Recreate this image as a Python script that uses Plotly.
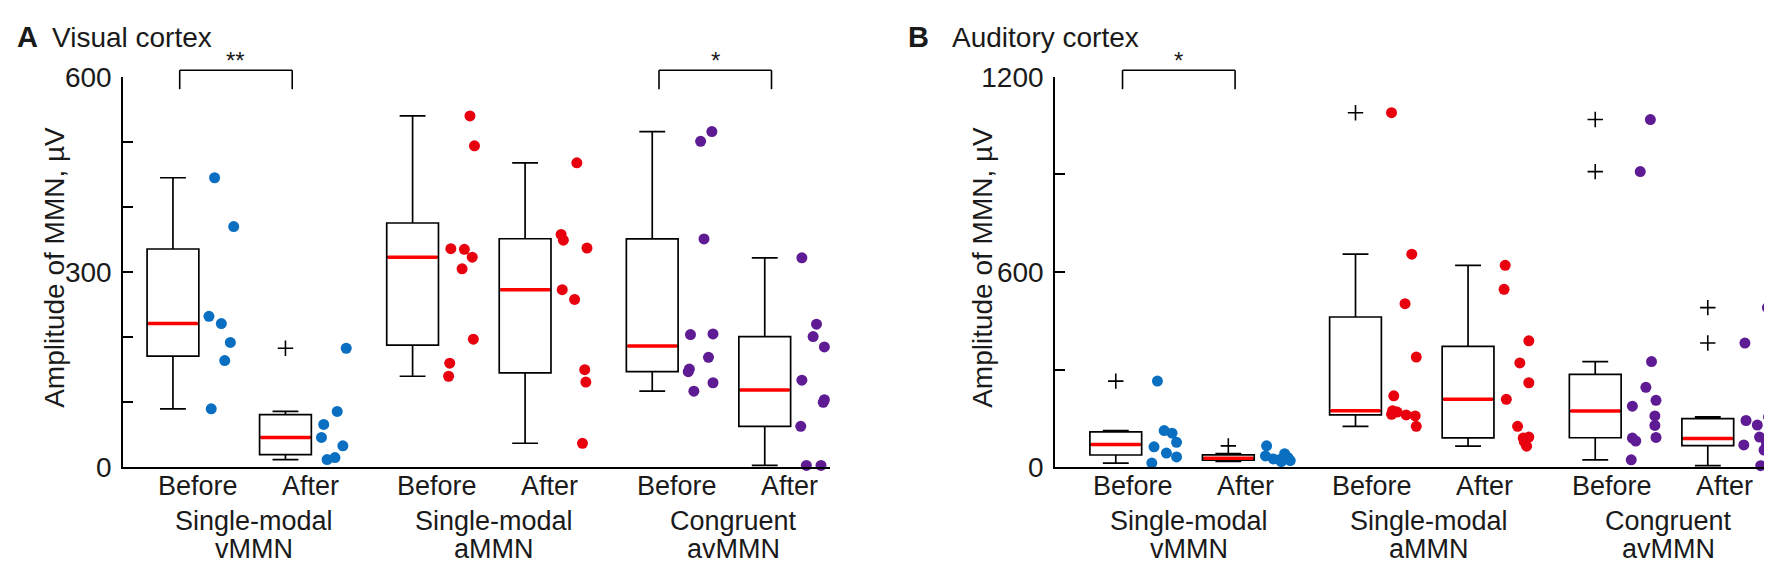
import numpy as np
import plotly.graph_objects as go

# ---------------- data ----------------
box_positions = [1, 2, 3.13, 4.13, 5.26, 6.26]
condition_labels = ["Before", "After", "Before", "After", "Before", "After"]
group_line1 = ["Single-modal", "Single-modal", "Congruent"]
group_line2 = ["vMMN", "aMMN", "avMMN"]
group_colors = ["#0b6fc1", "#e8000f", "#5e1b93"]

# Panel A: visual cortex (µV)
A_before_v = [445, 370, 232, 221, 192, 164, 90]
A_before_v_dx = [0.37, 0.54, 0.32, 0.43, 0.51, 0.46, 0.34]
A_after_v = [183, 86, 66, 46, 33, 15, 12]
A_after_v_dx = [0.54, 0.46, 0.34, 0.32, 0.51, 0.44, 0.37]
A_before_a = [540, 494, 336, 335, 323, 305, 197, 160, 140]
A_before_a_dx = [0.51, 0.55, 0.34, 0.46, 0.53, 0.44, 0.54, 0.33, 0.32]
A_after_a = [468, 358, 349, 337, 273, 258, 150, 131, 37]
A_after_a_dx = [0.46, 0.32, 0.34, 0.55, 0.33, 0.44, 0.53, 0.54, 0.51]
A_before_av = [516, 501, 351, 204, 205, 169, 151, 147, 130, 117]
A_before_av_dx = [0.53, 0.43, 0.46, 0.34, 0.54, 0.50, 0.33, 0.32, 0.54, 0.37]
A_after_av = [322, 220, 201, 185, 134, 104, 100, 63, 3, 3]
A_after_av_dx = [0.33, 0.46, 0.43, 0.53, 0.33, 0.53, 0.52, 0.32, 0.37, 0.50]

# Panel B: auditory cortex (µV)
B_before_v = [265, 113, 105, 77, 63, 44, 32, 13]
B_before_v_dx = [0.37, 0.43, 0.50, 0.54, 0.34, 0.45, 0.54, 0.32]
B_after_v = [66, 42, 35, 30, 26, 24, 21, 18]
B_after_v_dx = [0.34, 0.50, 0.33, 0.53, 0.40, 0.46, 0.55, 0.47]
B_before_a = [1090, 655, 503, 339, 220, 174, 170, 163, 161, 158, 126]
B_before_a_dx = [0.32, 0.50, 0.44, 0.54, 0.34, 0.33, 0.37, 0.32, 0.45, 0.53, 0.54]
B_after_a = [621, 547, 389, 321, 260, 209, 126, 93, 90, 79, 65]
B_after_a_dx = [0.33, 0.32, 0.54, 0.46, 0.54, 0.34, 0.44, 0.54, 0.49, 0.50, 0.52]
B_before_av = [1069, 909, 325, 246, 206, 188, 158, 129, 92, 90, 81, 23]
B_before_av_dx = [0.49, 0.40, 0.50, 0.45, 0.54, 0.33, 0.53, 0.53, 0.54, 0.33, 0.36, 0.32]
B_after_av = [491, 382, 155, 144, 130, 93, 84, 80, 69, 65, 53, 5]
B_after_av_dx = [0.53, 0.33, 0.54, 0.34, 0.44, 0.46, 0.53, 0.52, 0.32, 0.52, 0.50, 0.47]

A_ticks = [0, 100, 200, 300, 400, 500, 600]
A_ticktext = ["0", "", "", "300", "", "", "600"]
B_ticks = [0, 300, 600, 900, 1200]
B_ticktext = ["0", "", "600", "", "1200"]

# significance brackets: (panel, first box index, second box index, label)
sig_brackets = [("A", 0, 1, "**"), ("A", 4, 5, "*"), ("B", 0, 1, "*")]

# ---------------- figure ----------------
W, H = 1772, 568
FONT = "Liberation Sans, Arial, sans-serif"
TXT = "#1a1a1a"
LAB_SIZE = 27

def py(px):  # pixel row -> paper y
    return (H - px) / H

def pxx(px):
    return px / W

panels = {
    "A": dict(groups=[(A_before_v, A_before_v_dx), (A_after_v, A_after_v_dx),
                      (A_before_a, A_before_a_dx), (A_after_a, A_after_a_dx),
                      (A_before_av, A_before_av_dx), (A_after_av, A_after_av_dx)],
              xa="x", ya="y", dom=[115, 822], rng=[0.556, 6.84],
              ymax=600, ticks=A_ticks, ticktext=A_ticktext, lab_dx=0.22,
              title_letter=(7, "A"), title_text=(42, "Visual cortex"), ylab_x=47),
    "B": dict(groups=[(B_before_v, B_before_v_dx), (B_after_v, B_after_v_dx),
                      (B_before_a, B_before_a_dx), (B_after_a, B_after_a_dx),
                      (B_before_av, B_before_av_dx), (B_after_av, B_after_av_dx)],
              xa="x2", ya="y2", dom=[1047, 1769], rng=[0.46, 6.875],
              ymax=1200, ticks=B_ticks, ticktext=B_ticktext, lab_dx=0.15,
              title_letter=(898, "B"), title_text=(942, "Auditory cortex"), ylab_x=975),
}

BOX_W = 0.46
Y_BOTTOM, Y_TOP = 470, 57

fig = go.Figure()
annotations = []
shapes = []

for key, p in panels.items():
    for i, (vals, dx) in enumerate(p["groups"]):
        pos = box_positions[i]
        col = group_colors[i // 2]
        v = np.array(vals, dtype=float)
        q1, med, q3 = np.quantile(v, [0.25, 0.5, 0.75], method="hazen")
        iqr = q3 - q1
        inside = v[(v >= q1 - 1.5 * iqr) & (v <= q3 + 1.5 * iqr)]
        outl = v[(v < q1 - 1.5 * iqr) | (v > q3 + 1.5 * iqr)]
        fig.add_trace(go.Box(
            x=[pos], q1=[q1], median=[med], q3=[q3],
            lowerfence=[inside.min()], upperfence=[inside.max()],
            width=BOX_W, whiskerwidth=0.5, boxpoints=False,
            line=dict(color="black", width=1.7), fillcolor="rgba(0,0,0,0)",
            xaxis=p["xa"], yaxis=p["ya"], showlegend=False, hoverinfo="skip"))
        # red median
        fig.add_trace(go.Scatter(
            x=[pos - BOX_W / 2 + 0.01, pos + BOX_W / 2 - 0.01], y=[med, med],
            mode="lines", line=dict(color="#ff0000", width=3.5),
            xaxis=p["xa"], yaxis=p["ya"], showlegend=False, hoverinfo="skip"))
        # outliers
        if len(outl):
            fig.add_trace(go.Scatter(
                x=[pos] * len(outl), y=outl, mode="markers",
                marker=dict(symbol="cross-thin", size=11, line=dict(color="black", width=1.6)),
                xaxis=p["xa"], yaxis=p["ya"], showlegend=False, hoverinfo="skip",
                cliponaxis=False))
        # individual points
        fig.add_trace(go.Scatter(
            x=[pos + d for d in dx], y=vals, mode="markers",
            marker=dict(color=col, size=11, line=dict(width=0)),
            xaxis=p["xa"], yaxis=p["ya"], showlegend=False, hoverinfo="skip",
            cliponaxis=False))
        # condition labels
        annotations.append(dict(
            x=pos + p["lab_dx"], y=py(490), xref=p["xa"], yref="paper",
            text=condition_labels[i], showarrow=False, xanchor="center", yanchor="middle",
            borderpad=0, font=dict(size=LAB_SIZE, color=TXT, family=FONT)))
    for g in range(3):
        cx = (box_positions[2 * g] + box_positions[2 * g + 1]) / 2 + p["lab_dx"]
        annotations.append(dict(x=cx, y=py(527), xref=p["xa"], yref="paper",
                                text=group_line1[g], showarrow=False, xanchor="center",
                                yanchor="middle", borderpad=0,
                                font=dict(size=LAB_SIZE, color=TXT, family=FONT)))
        annotations.append(dict(x=cx, y=py(556), xref=p["xa"], yref="paper",
                                text=group_line2[g], showarrow=False, xanchor="center",
                                yanchor="middle", borderpad=0,
                                font=dict(size=LAB_SIZE, color=TXT, family=FONT)))
    # titles
    annotations.append(dict(x=pxx(p["title_letter"][0]), y=py(15), xref="paper", yref="paper",
                            text="<b>" + p["title_letter"][1] + "</b>", showarrow=False,
                            xanchor="left", yanchor="middle",
                            font=dict(size=29, color=TXT, family=FONT)))
    annotations.append(dict(x=pxx(p["title_text"][0]), y=py(15), xref="paper", yref="paper",
                            text=p["title_text"][1], showarrow=False,
                            xanchor="left", yanchor="middle",
                            font=dict(size=28, color=TXT, family=FONT)))
    # y label
    annotations.append(dict(x=pxx(p["ylab_x"]), y=py(259), xref="paper", yref="paper",
                            text="Amplitude of MMN, µV", textangle=-90, showarrow=False,
                            xanchor="center", yanchor="middle",
                            font=dict(size=28, color=TXT, family=FONT)))

for key, i0, i1, lab in sig_brackets:
    p = panels[key]
    xa0 = box_positions[i0] + 0.06
    xa1 = box_positions[i1] + 0.06
    for xs, ys in [((xa0, xa0), (py(70), py(50))), ((xa0, xa1), (py(50), py(50))),
                   ((xa1, xa1), (py(50), py(70)))]:
        shapes.append(dict(type="line", xref=p["xa"], yref="paper",
                           x0=xs[0], x1=xs[1], y0=ys[0], y1=ys[1],
                           line=dict(color="black", width=1.6)))
    annotations.append(dict(x=(xa0 + xa1) / 2, y=py(40), xref=p["xa"], yref="paper",
                            text=lab, showarrow=False, xanchor="center", yanchor="middle",
                            font=dict(size=24, color=TXT, family=FONT)))

ydom = [py(Y_BOTTOM), py(Y_TOP)]
common_x = dict(showline=True, linecolor="black", linewidth=1.6, ticks="",
                showticklabels=False, showgrid=False, zeroline=False, fixedrange=True)
common_y = dict(showline=True, linecolor="black", linewidth=1.6, ticks="inside",
                ticklen=10, tickwidth=1.6, tickcolor="black", showgrid=False,
                zeroline=False, tickfont=dict(size=28, color=TXT, family=FONT),
                ticklabelstandoff=4)

fig.update_layout(
    width=W, height=H, margin=dict(l=0, r=0, t=0, b=0),
    paper_bgcolor="white", plot_bgcolor="white", showlegend=False,
    font=dict(family=FONT, color=TXT),
    xaxis=dict(domain=[pxx(panels["A"]["dom"][0]), pxx(panels["A"]["dom"][1])],
               range=panels["A"]["rng"], anchor="y", **common_x),
    yaxis=dict(domain=ydom, range=[0, 600], anchor="x", tickvals=A_ticks,
               ticktext=A_ticktext, **common_y),
    xaxis2=dict(domain=[pxx(panels["B"]["dom"][0]), pxx(panels["B"]["dom"][1])],
                range=panels["B"]["rng"], anchor="y2", **common_x),
    yaxis2=dict(domain=ydom, range=[0, 1200], anchor="x2", tickvals=B_ticks,
                ticktext=B_ticktext, **common_y),
    annotations=annotations, shapes=shapes,
)

fig.write_html("out.html")
